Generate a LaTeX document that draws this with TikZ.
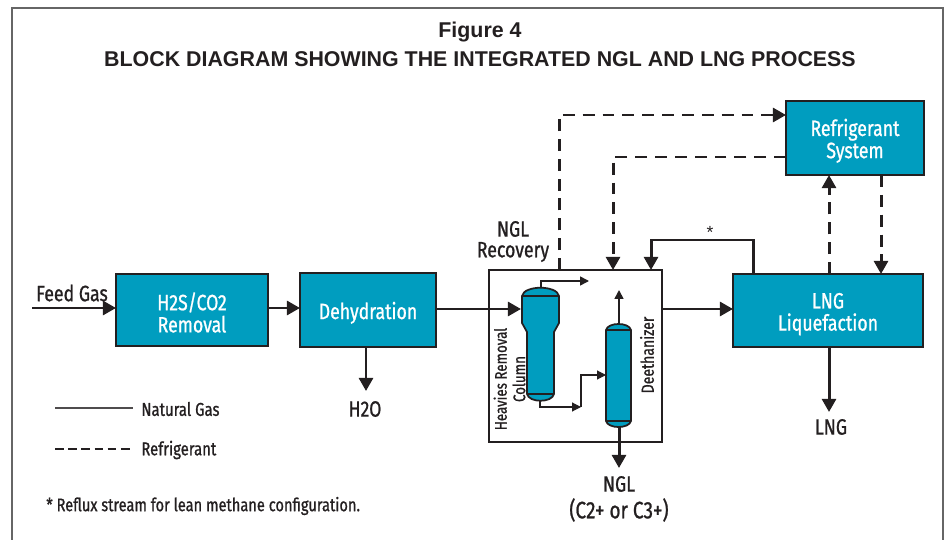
\documentclass[tikz,border=0pt]{standalone}
\usepackage{fontspec}
\setmainfont{Liberation Sans}
\newfontfamily\narrowfont[FakeStretch=0.8,FakeBold=0.9]{Fira Sans}
\usetikzlibrary{arrows.meta}
\definecolor{tealfill}{HTML}{009DBF}
\definecolor{inkline}{HTML}{231F20}
\newcommand{\boxlift}{\rule{0pt}{13pt}}
\tikzset{
	processbox/.style={draw=inkline, fill=tealfill, line width=0.8pt, text=white, font=\narrowfont\fontsize{12.6}{12.6}\selectfont, align=center, inner sep=0pt},
	mainflow/.style={draw=inkline, line width=1.7pt, -{Triangle[length=7.5pt,width=8pt]}},
	reflowline/.style={mainflow, dash pattern=on 6.8pt off 4.5pt},
	thinflow/.style={draw=inkline, line width=0.6pt, -{Triangle[length=5pt,width=5pt]}},
	labeltext/.style={text=inkline, font=\narrowfont\fontsize{12.6}{14}\selectfont, align=center, inner sep=0pt},
	smalltext/.style={text=inkline, font=\narrowfont\fontsize{10.6}{12}\selectfont, inner sep=0pt},
	columnbody/.style={draw=inkline, fill=tealfill, line width=1pt}
}
\begin{document}
\begin{tikzpicture}[x=0.02cm, y=-0.02cm]
	\useasboundingbox (0,0) rectangle (949,540);

	\draw[gray!80!black, line width=0.7pt] (12,540) -- (12,8) -- (943,8) -- (943,540);

	\node[text=inkline, font=\bfseries\fontsize{12.17}{14}\selectfont, inner sep=0pt] (figtitle) at (480,32) {Figure 4};
	\node[text=inkline, font=\bfseries\fontsize{12.17}{14}\selectfont, inner sep=0pt] (figsubtitle) at (480,59) {BLOCK DIAGRAM SHOWING THE INTEGRATED NGL AND LNG PROCESS};

	\node[processbox, minimum width=3.04cm, minimum height=1.44cm] (gasremoval) at (192,310) {\boxlift H2S/CO2\\Removal};
	\node[processbox, minimum width=2.72cm, minimum height=1.48cm] (dehydration) at (368,310) {\boxlift Dehydration};
	\node[draw=inkline, line width=1.1pt, fill=white, minimum width=3.46cm, minimum height=3.44cm, inner sep=0pt] (nglbox) at (575.5,356) {};
	\node[processbox, minimum width=3.8cm, minimum height=1.46cm] (liquefaction) at (828,310.5) {\boxlift LNG\\Liquefaction};
	\node[processbox, minimum width=2.76cm, minimum height=1.48cm] (refrigsystem) at (855,138) {\boxlift Refrigerant\\System};

	\draw[columnbody] (522,296) .. controls (524,285) and (557,285) .. (559,296) -- (559,323) -- (554,332) -- (554,394) .. controls (552,403) and (529,403) .. (527,394) -- (527,332) -- (522,323) -- cycle;
	\draw[columnbody] (522,296) -- (559,296);
	\draw[columnbody] (527,394) -- (554,394);
	\draw[columnbody] (606,330) .. controls (608,322) and (629,322) .. (631,330) -- (631,421) .. controls (629,429) and (608,429) .. (606,421) -- cycle;
	\draw[columnbody] (606,330) -- (631,330);
	\draw[columnbody] (606,421) -- (631,421);

	\coordinate (feedstart) at (32,308);
	\coordinate (feedend) at (116,308);
	\coordinate (gasout) at (268,308);
	\coordinate (dehyin) at (300,308);
	\coordinate (dehyout) at (436,309);
	\coordinate (heavyin) at (521,309);
	\coordinate (nglout) at (662,309);
	\coordinate (lngin) at (733,309);
	\coordinate (heavytop) at (541,288);
	\coordinate (heavytopend) at (589,281);
	\coordinate (heavybottom) at (540,400);
	\coordinate (midpoint) at (581,407);
	\coordinate (deethin) at (606,375);
	\coordinate (deethtop) at (619,325);
	\coordinate (deethtopend) at (619,290);
	\coordinate (deethbottom) at (619,426);
	\coordinate (nglend) at (619,468);
	\coordinate (waterstart) at (366,347);
	\coordinate (waterend) at (366,391);
	\coordinate (lngstart) at (829,347);
	\coordinate (lngend) at (829,412);
	\coordinate (refluxstart) at (753,274);
	\coordinate (refluxend) at (651,270);
	\coordinate (coldstart) at (559,270);
	\coordinate (coldend) at (786,115);
	\coordinate (returnstart) at (786,157);
	\coordinate (returnend) at (613,270);
	\coordinate (upstart) at (829,274);
	\coordinate (upend) at (829,175);
	\coordinate (downstart) at (881,175);
	\coordinate (downend) at (881,274);

	\draw[mainflow] (feedstart) -- (feedend);
	\draw[mainflow] (gasout) -- (dehyin);
	\draw[mainflow] (dehyout) -- (heavyin);
	\draw[mainflow] (nglout) -- (lngin);
	\draw[mainflow] (waterstart) -- (waterend);
	\draw[mainflow] (deethbottom) -- (nglend);
	\draw[mainflow] (lngstart) -- (lngend);
	\draw[mainflow] (refluxstart) |- (702,240) -| (refluxend);

	\draw[reflowline] (coldstart) |- (coldend);
	\draw[reflowline] (returnstart) -| (returnend);
	\draw[reflowline] (upstart) -- (upend);
	\draw[reflowline] (downstart) -- (downend);

	\draw[thinflow, line width=0.9pt] (heavytop) |- (heavytopend);
	\draw[thinflow] (heavybottom) |- (midpoint);
	\draw[thinflow] (midpoint) |- (deethin);
	\draw[thinflow, line width=0.9pt] (deethtop) -- (deethtopend);

	\node[labeltext] (feedlabel) at (72,293) {Feed Gas};
	\node[labeltext] (ngllabel) at (513,229) {NGL};
	\node[labeltext] (recoverylabel) at (513,252) {Recovery};
	\node[labeltext] (waterlabel) at (365,409) {H2O};
	\node[labeltext] (lnglabel) at (831,427) {LNG};
	\node[labeltext] (nglproduct) at (619,484) {NGL};
	\node[labeltext, font=\narrowfont\fontsize{13.5}{14}\selectfont] (c2label) at (619,510) {(C2+ or C3+)};
	\node[text=inkline, font=\fontsize{10}{11}\selectfont, inner sep=0pt] (starlabel) at (710,232) {*};

	\node[smalltext, rotate=90, align=center, font=\narrowfont\fontsize{9.5}{10.5}\selectfont] (heavylabel) at (509.5,379) {Heavies Removal\\Column};
	\node[smalltext, rotate=90, font=\narrowfont\fontsize{10}{11}\selectfont] (deethlabel) at (647,355) {Deethanizer};

	\coordinate (naturalstart) at (55,408);
	\coordinate (naturalend) at (133,408);
	\coordinate (refrigstart) at (55,449);
	\coordinate (refrigend) at (131,449);
	\draw[draw=inkline!80, line width=0.6pt] (naturalstart) -- (naturalend);
	\draw[draw=inkline, line width=0.9pt, dash pattern=on 5pt off 2.5pt] (refrigstart) -- (refrigend);

	\node[smalltext, anchor=west] (naturallabel) at (141,409) {Natural Gas};
	\node[smalltext, anchor=west] (refriglabel) at (141,450) {Refrigerant};
	\node[smalltext, anchor=west, font=\narrowfont\fontsize{10.4}{12}\selectfont] (notelabel) at (46,506) {* Reflux stream for lean methane configuration.};
\end{tikzpicture}
\end{document}
